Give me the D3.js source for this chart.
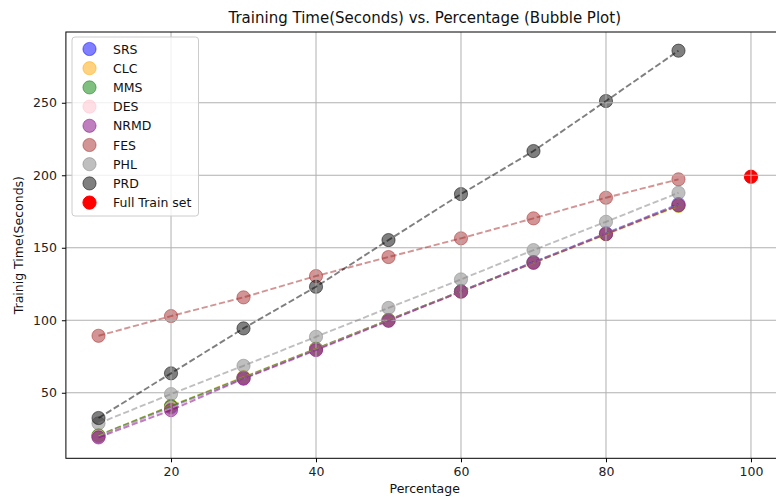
<!DOCTYPE html>
<html>
<head>
<meta charset="utf-8">
<script src="https://cdn.jsdelivr.net/npm/d3@7/dist/d3.min.js"></script>
<style>
  html, body { margin: 0; padding: 0; background: #fff; }
  svg { display: block; font-family: "DejaVu Sans", sans-serif; }
</style>
</head>
<body>
<svg id="chart" width="776" height="497"></svg>
<script>
// Training subset sizes (%)
const percentages = [10, 20, 30, 40, 50, 60, 70, 80, 90];

// Training time in seconds per sampling method
const srs  = [20.1, 40.2, 60.1, 80.0, 100.1, 120.0, 140.1, 160.0, 180.1];
const clc  = [20.5, 41.0, 60.8, 80.5, 100.2, 119.8, 139.5, 159.2, 178.8];
const mms  = [20.6, 40.8, 60.5, 80.3, 100.1, 120.0, 139.8, 159.6, 179.2];
const des  = [19.9, 39.5, 59.8, 79.8, 99.8, 119.8, 139.8, 159.8, 179.6];
const nrmd = [19.2, 38.0, 59.7, 79.4, 99.6, 119.7, 139.7, 159.5, 179.4];
const fes  = [89.3, 102.9, 115.8, 130.5, 143.6, 156.5, 170.3, 184.5, 197.2];
const phl  = [28.9, 49.1, 68.6, 88.6, 108.5, 128.2, 148.4, 167.9, 187.9];
const prd  = [32.6, 63.4, 94.4, 123.1, 155.3, 187.0, 216.7, 251.2, 285.9];

const seriesNames  = ["SRS", "CLC", "MMS", "DES", "NRMD", "FES", "PHL", "PRD"];
const seriesValues = [srs, clc, mms, des, nrmd, fes, phl, prd];
const seriesColors = ["#0000ff", "#ffa500", "#008000", "#ffc0cb", "#800080", "#a52a2a", "#808080", "#000000"];

// Full training set reference point
const fullLabel = "Full Train set";
const fullPercentage = 100;
const fullTime = 199;

const xTicks = [20, 40, 60, 80, 100];
const yTicks = [50, 100, 150, 200, 250];

const titleText = "Training Time(Seconds) vs. Percentage (Bubble Plot)";
const xLabel = "Percentage";
const yLabel = "Trainig Time(Seconds)";

const svg = d3.select("#chart");
const plot = { left: 65.9, right: 783.6, top: 32, bottom: 458.3 };

const x = d3.scaleLinear().domain([5.5, 104.5]).range([plot.left, plot.right]);
const y = d3.scaleLinear().domain([4.8, 298.8]).range([plot.bottom, plot.top]);

// Bubbles sit underneath the grid; dashed lines are drawn above it
const bubbles = svg.append("g");
seriesValues.forEach((vals, k) => {
  bubbles.append("g").selectAll("circle").data(vals).join("circle")
    .attr("cx", (d, i) => x(percentages[i]))
    .attr("cy", d => y(d))
    .attr("r", 6.6)
    .attr("fill", seriesColors[k])
    .attr("fill-opacity", 0.5)
    .attr("stroke", seriesColors[k])
    .attr("stroke-opacity", 0.5)
    .attr("stroke-width", 1);
});
bubbles.append("circle")
  .attr("cx", x(fullPercentage)).attr("cy", y(fullTime))
  .attr("r", 6.6).attr("fill", "#ff0000").attr("stroke", "#ff0000").attr("stroke-width", 1);

// Grid
const grid = svg.append("g");
grid.selectAll("line.gx").data(xTicks).join("line")
  .attr("x1", d => x(d)).attr("x2", d => x(d))
  .attr("y1", plot.top).attr("y2", plot.bottom)
  .attr("stroke", "#b0b0b0").attr("stroke-width", 1);
grid.selectAll("line.gy").data(yTicks).join("line")
  .attr("x1", plot.left).attr("x2", plot.right)
  .attr("y1", d => y(d)).attr("y2", d => y(d))
  .attr("stroke", "#b0b0b0").attr("stroke-width", 1);

// Dashed trend lines
const lineGen = d3.line().x((d, i) => x(percentages[i])).y(d => y(d));
const lines = svg.append("g");
seriesValues.forEach((vals, k) => {
  lines.append("path")
    .datum(vals)
    .attr("d", lineGen)
    .attr("fill", "none")
    .attr("stroke", seriesColors[k])
    .attr("stroke-opacity", 0.5)
    .attr("stroke-width", 1.9)
    .attr("stroke-dasharray", "6.2,2.7");
});

// Axes
const xAxis = d3.axisBottom(x).tickValues(xTicks).tickSize(4).tickPadding(5).tickFormat(d3.format("d"));
const yAxis = d3.axisLeft(y).tickValues(yTicks).tickSize(4).tickPadding(5).tickFormat(d3.format("d"));

const gx = svg.append("g").attr("transform", `translate(0,${plot.bottom})`).call(xAxis);
const gy = svg.append("g").attr("transform", `translate(${plot.left},0)`).call(yAxis);
[gx, gy].forEach(g => {
  g.select(".domain").remove();
  g.selectAll(".tick line").attr("stroke", "#000").attr("stroke-width", 1);
  g.selectAll(".tick text").attr("fill", "#222").style("font-size", "12.5px")
    .style("font-family", "DejaVu Sans, sans-serif");
});

// Frame
svg.append("rect")
  .attr("x", plot.left).attr("y", plot.top)
  .attr("width", plot.right - plot.left).attr("height", plot.bottom - plot.top)
  .attr("fill", "none").attr("stroke", "#000").attr("stroke-width", 1);

// Title and axis labels
svg.append("text").attr("x", (plot.left + plot.right) / 2).attr("y", 23)
  .attr("text-anchor", "middle").style("font-size", "15px").attr("fill", "#111")
  .text(titleText);
svg.append("text").attr("x", (plot.left + plot.right) / 2).attr("y", 493)
  .attr("text-anchor", "middle").style("font-size", "12.5px").attr("fill", "#111")
  .text(xLabel);
svg.append("text")
  .attr("transform", `translate(23,${(plot.top + plot.bottom) / 2}) rotate(-90)`)
  .attr("text-anchor", "middle").style("font-size", "12.5px").attr("fill", "#111")
  .text(yLabel);

// Legend
const legendItems = seriesNames.map((n, k) => ({ name: n, color: seriesColors[k], opacity: 0.5 }))
  .concat([{ name: fullLabel, color: "#ff0000", opacity: 1 }]);
const legend = svg.append("g");
legend.append("rect")
  .attr("x", 72).attr("y", 37).attr("width", 126.5).attr("height", 179)
  .attr("rx", 3).attr("fill", "#fff").attr("fill-opacity", 0.8)
  .attr("stroke", "#cccccc").attr("stroke-width", 1);
const rows = legend.selectAll("g.row").data(legendItems).join("g")
  .attr("transform", (d, i) => `translate(0,${49 + i * 19.2})`);
rows.append("circle").attr("cx", 89.5).attr("cy", 0).attr("r", 6.6)
  .attr("fill", d => d.color).attr("fill-opacity", d => d.opacity)
  .attr("stroke", d => d.color).attr("stroke-opacity", d => d.opacity).attr("stroke-width", 1);
rows.append("text").attr("x", 113).attr("y", 4.5)
  .style("font-size", "12.5px").attr("fill", "#111").text(d => d.name);
</script>
</body>
</html>
